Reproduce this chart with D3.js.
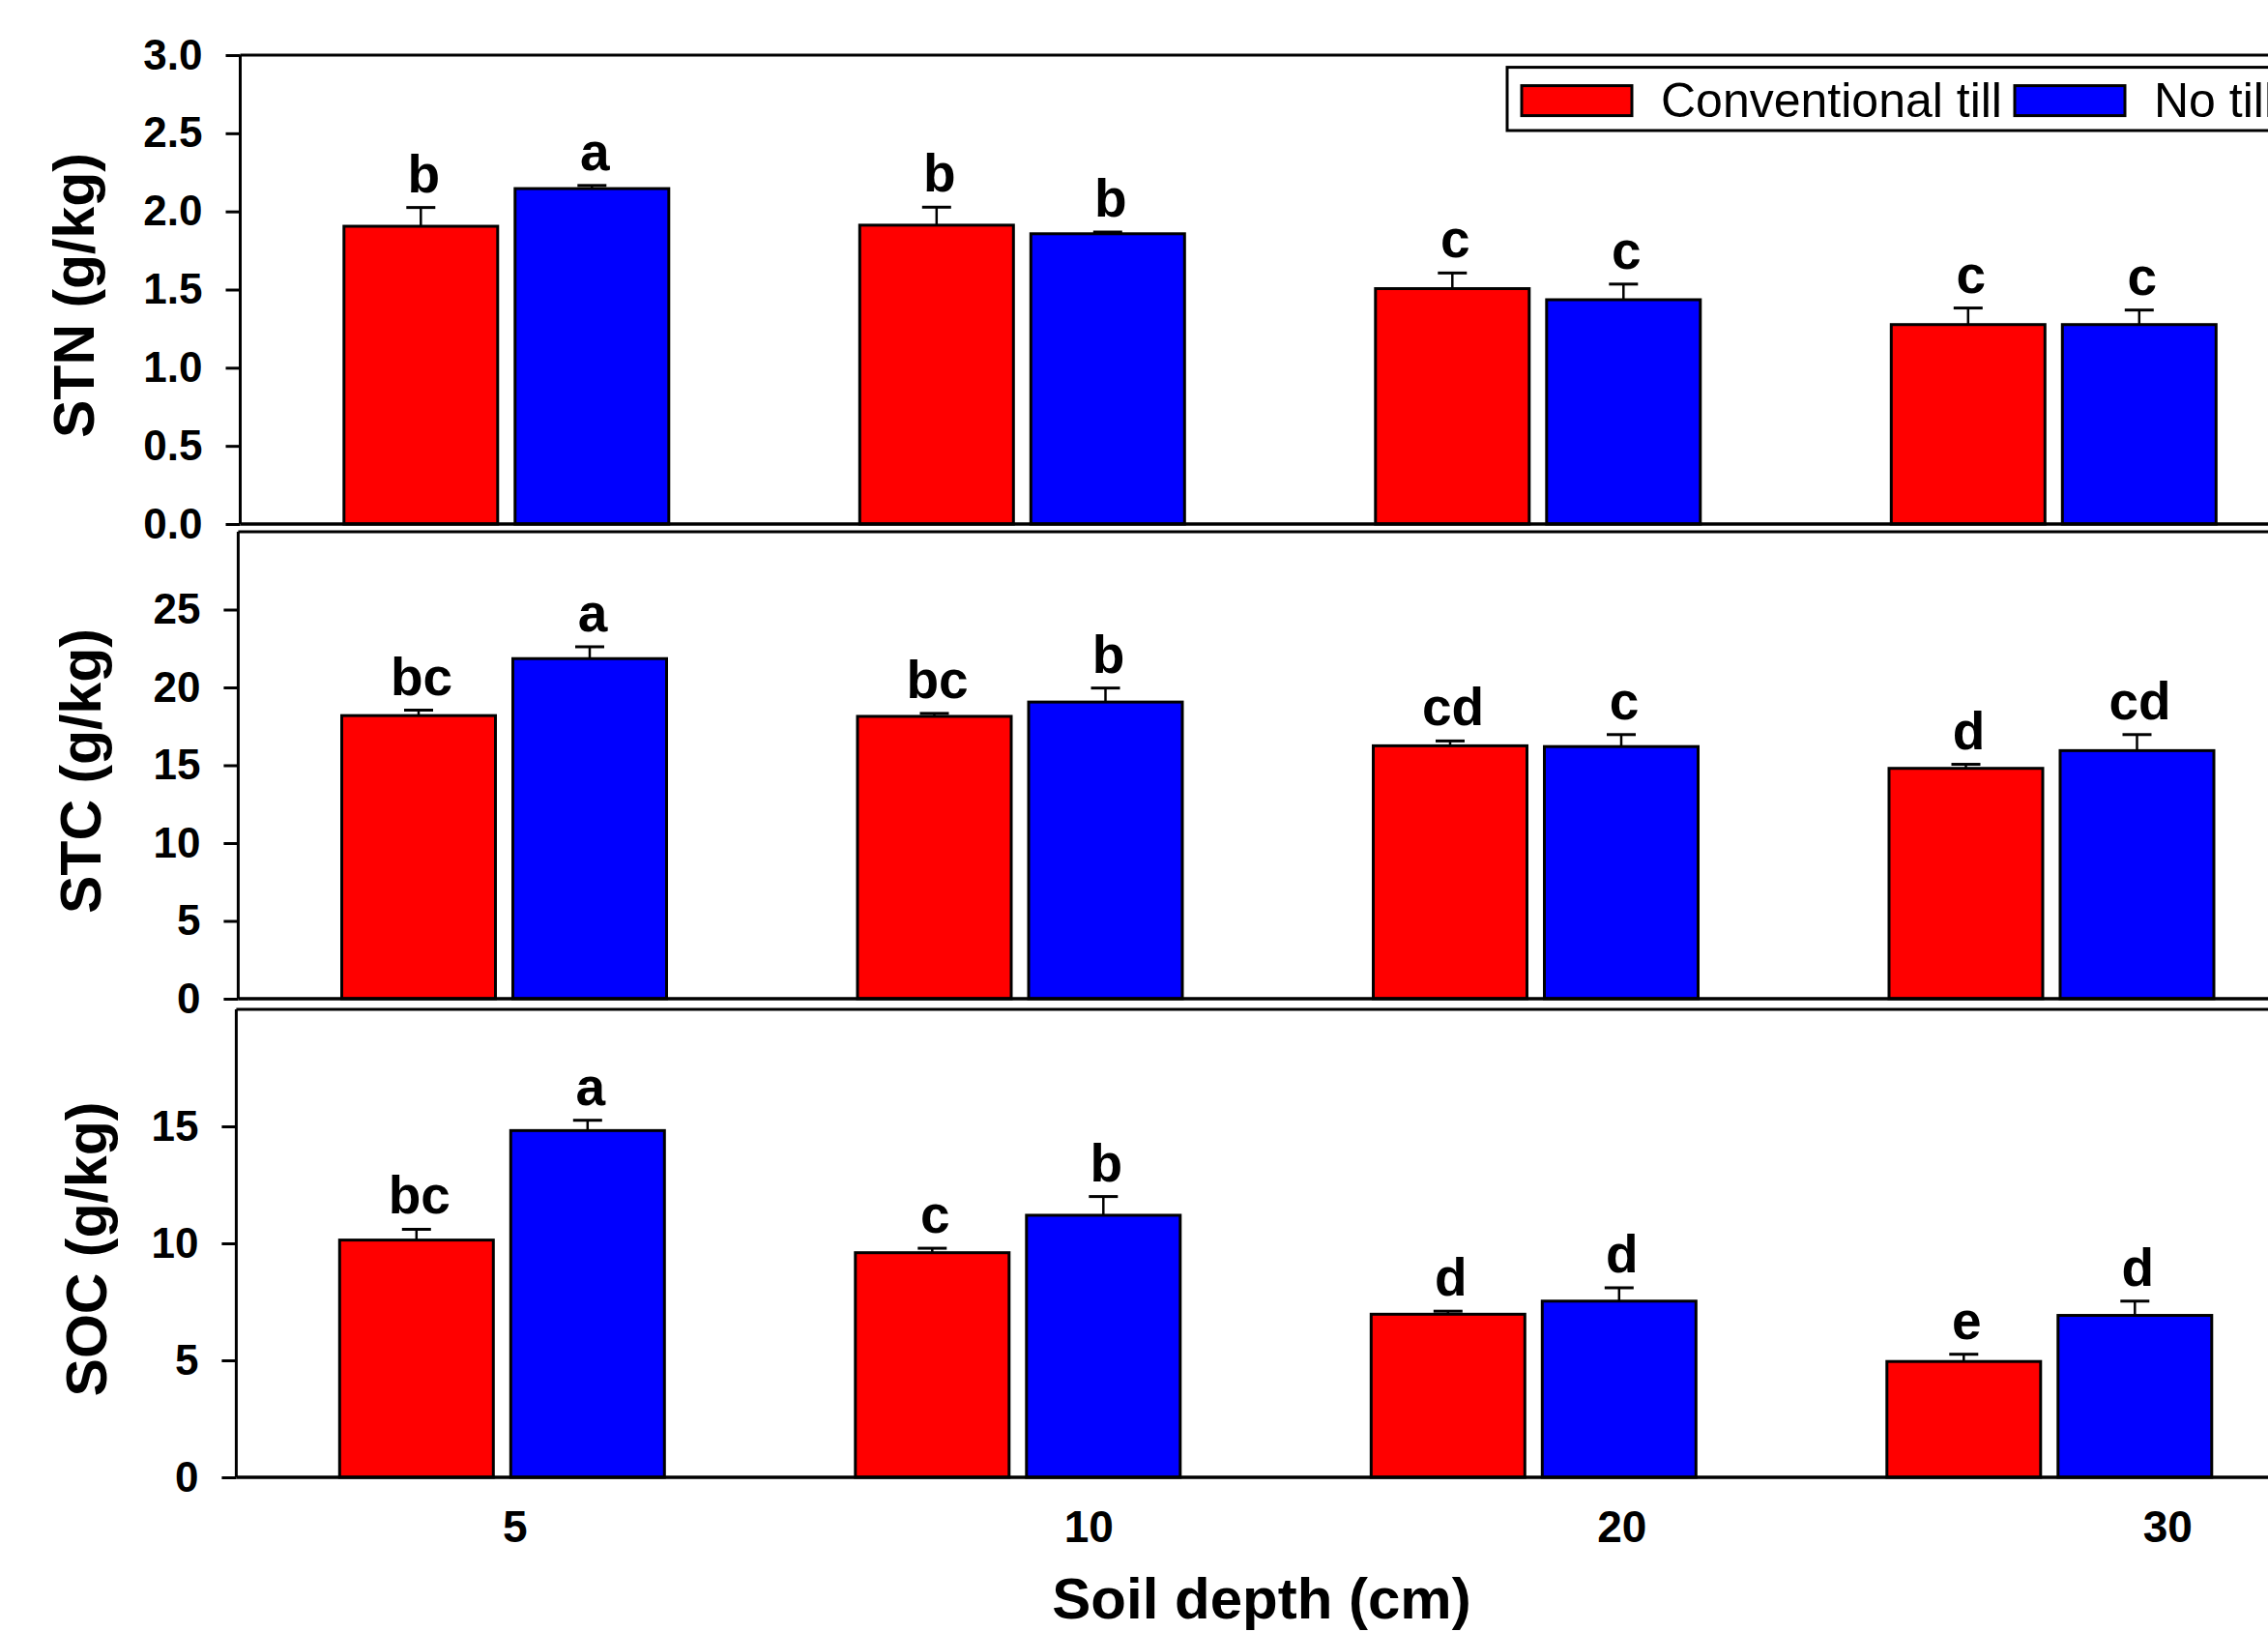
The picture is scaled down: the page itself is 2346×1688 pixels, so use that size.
<!DOCTYPE html>
<html>
<head>
<meta charset="utf-8">
<script src="https://cdn.jsdelivr.net/npm/d3@7"></script>
<style>
  html, body { margin: 0; padding: 0; background: #fff; }
  svg { display: block; }
  text { font-family: "Liberation Sans", Arial, sans-serif; }
</style>
</head>
<body>
<svg id="chart" width="2346" height="1688"></svg>
<script>
// ---------------- data ----------------
const depths = ["5", "10", "20", "30"];
const seriesNames = ["Conventional till", "No till"];
const seriesColors = ["#FF0000", "#0000FF"];

const stnCT = [1.905, 1.912, 1.506, 1.276];
const stnCTerr = [0.12, 0.115, 0.10, 0.106];
const stnNT = [2.146, 1.857, 1.435, 1.276];
const stnNTerr = [0.02, 0.011, 0.10, 0.093];
const stnCTletters = ["b", "b", "c", "c"];
const stnNTletters = ["a", "b", "c", "c"];

const stcCT = [18.19, 18.14, 16.25, 14.8];
const stcCTerr = [0.35, 0.19, 0.31, 0.26];
const stcNT = [21.85, 19.06, 16.2, 15.94];
const stcNTerr = [0.76, 0.9, 0.77, 1.03];
const stcCTletters = ["bc", "bc", "cd", "d"];
const stcNTletters = ["a", "b", "c", "cd"];

const socCT = [10.14, 9.6, 6.97, 4.95];
const socCTerr = [0.46, 0.19, 0.13, 0.31];
const socNT = [14.82, 11.2, 7.53, 6.92];
const socNTerr = [0.44, 0.8, 0.57, 0.61];
const socCTletters = ["bc", "c", "d", "e"];
const socNTletters = ["a", "b", "d", "d"];

const stnTicks = [0, 0.5, 1.0, 1.5, 2.0, 2.5, 3.0];
const stcTicks = [0, 5, 10, 15, 20, 25];
const socTicks = [0, 5, 10, 15];

// ---------------- layout ----------------
const svg = d3.select("#chart");
svg.append("rect").attr("width", 2346).attr("height", 1688).attr("fill", "#fff");

const panels = [
  { title: "STN (g/kg)", domain: [0, 3], ticks: stnTicks, fmt: d3.format(".1f"),
    top: 57, bottom: 542, left: 248.5, shift: 0, titleX: 76,
    ct: stnCT, cte: stnCTerr, nt: stnNT, nte: stnNTerr, ctl: stnCTletters, ntl: stnNTletters },
  { title: "STC (g/kg)", domain: [0, 30], ticks: stcTicks, fmt: d3.format("d"),
    top: 550, bottom: 1033, left: 246.4, shift: -2.3, titleX: 83,
    ct: stcCT, cte: stcCTerr, nt: stcNT, nte: stcNTerr, ctl: stcCTletters, ntl: stcNTletters },
  { title: "SOC (g/kg)", domain: [0, 20], ticks: socTicks, fmt: d3.format("d"),
    top: 1044, bottom: 1528, left: 244.4, shift: -4.5, titleX: 89,
    ct: socCT, cte: socCTerr, nt: socNT, nte: socNTerr, ctl: socCTletters, ntl: socNTletters }
];

const rightEdge = 2420; // plot continues past the visible edge
const xGroup = d3.scalePoint().domain(depths).range([523.8, 2124.3]);
const xInner = d3.scaleBand().domain(seriesNames).range([-168, 168]).paddingInner(0.1017);
const bw = xInner.bandwidth();
const xLabelShift = [9, 69, 87, 118];

panels.forEach((p, pi) => {
  const g = svg.append("g");
  const y = d3.scaleLinear().domain(p.domain).range([p.bottom, p.top]);

  const rows = [];
  depths.forEach((d, i) => {
    rows.push({ d, s: 0, v: p.ct[i], e: p.cte[i], l: p.ctl[i] });
    rows.push({ d, s: 1, v: p.nt[i], e: p.nte[i], l: p.ntl[i] });
  });
  const bx = r => xGroup(r.d) + xInner(seriesNames[r.s]) + p.shift;

  // error bars
  rows.forEach(r => {
    const cx = bx(r) + bw / 2;
    g.append("line").attr("x1", cx).attr("x2", cx)
      .attr("y1", y(r.v)).attr("y2", y(r.v + r.e))
      .attr("stroke", "#000").attr("stroke-width", 2.5);
    g.append("line").attr("x1", cx - 15).attr("x2", cx + 15)
      .attr("y1", y(r.v + r.e)).attr("y2", y(r.v + r.e))
      .attr("stroke", "#000").attr("stroke-width", 3);
  });

  g.selectAll("rect.bar").data(rows).enter().append("rect")
    .attr("class", "bar")
    .attr("x", r => bx(r))
    .attr("width", bw)
    .attr("y", r => y(r.v))
    .attr("height", r => y(0) - y(r.v))
    .attr("fill", r => seriesColors[r.s])
    .attr("stroke", "#000").attr("stroke-width", 3);

  // significance letters
  g.selectAll("text.sig").data(rows).enter().append("text")
    .attr("class", "sig")
    .attr("x", r => bx(r) + bw / 2 + 3)
    .attr("y", r => y(r.v + r.e) - 16)
    .attr("text-anchor", "middle")
    .attr("font-size", 55).attr("font-weight", "bold")
    .text(r => r.l);

  // frame lines
  g.append("line").attr("x1", p.left).attr("x2", rightEdge)
    .attr("y1", p.top).attr("y2", p.top).attr("stroke", "#000").attr("stroke-width", 3);
  g.append("line").attr("x1", p.left).attr("x2", rightEdge)
    .attr("y1", p.bottom).attr("y2", p.bottom).attr("stroke", "#000").attr("stroke-width", 3.5);

  // y axis
  const yAxis = d3.axisLeft(y).tickValues(p.ticks).tickFormat(p.fmt)
    .tickSize(15).tickPadding(24);
  const ga = svg.append("g").attr("transform", `translate(${p.left},0)`).call(yAxis);
  ga.select(".domain").attr("d", `M0,${p.top}V${p.bottom}`).attr("stroke", "#000").attr("stroke-width", 3);
  ga.selectAll(".tick line").attr("stroke", "#000").attr("stroke-width", 3);
  ga.selectAll(".tick text").attr("font-size", 44).attr("font-weight", "bold")
    .attr("fill", "#000").attr("font-family", "'Liberation Sans', Arial, sans-serif");

  // y title
  svg.append("text")
    .attr("transform", `translate(${p.titleX + 21},${(p.top + p.bottom) / 2 + 6}) rotate(-90)`)
    .attr("text-anchor", "middle")
    .attr("font-size", 59).attr("font-weight", "bold")
    .text(p.title);

  // x tick labels & title on bottom panel
  if (pi === panels.length - 1) {
    svg.selectAll("text.xt").data(depths).enter().append("text")
      .attr("class", "xt")
      .attr("x", (d, i) => xGroup(d) + xLabelShift[i])
      .attr("y", 1595)
      .attr("text-anchor", "middle")
      .attr("font-size", 46).attr("font-weight", "bold")
      .text(d => d);
    svg.append("text")
      .attr("x", 1305).attr("y", 1674)
      .attr("text-anchor", "middle")
      .attr("font-size", 60).attr("font-weight", "bold")
      .text("Soil depth (cm)");
  }
});

// legend
const lg = svg.append("g");
lg.append("rect").attr("x", 1559).attr("y", 69.6).attr("width", 900).attr("height", 65.4)
  .attr("fill", "#fff").attr("stroke", "#000").attr("stroke-width", 3);
const legX = [1574, 2084];
seriesNames.forEach((s, i) => {
  lg.append("rect").attr("x", legX[i]).attr("y", 88.6).attr("width", 114).attr("height", 31)
    .attr("fill", seriesColors[i]).attr("stroke", "#000").attr("stroke-width", 3);
  lg.append("text").attr("x", legX[i] + 144).attr("y", 121)
    .attr("font-size", 50).text(s);
});
</script>
</body>
</html>
